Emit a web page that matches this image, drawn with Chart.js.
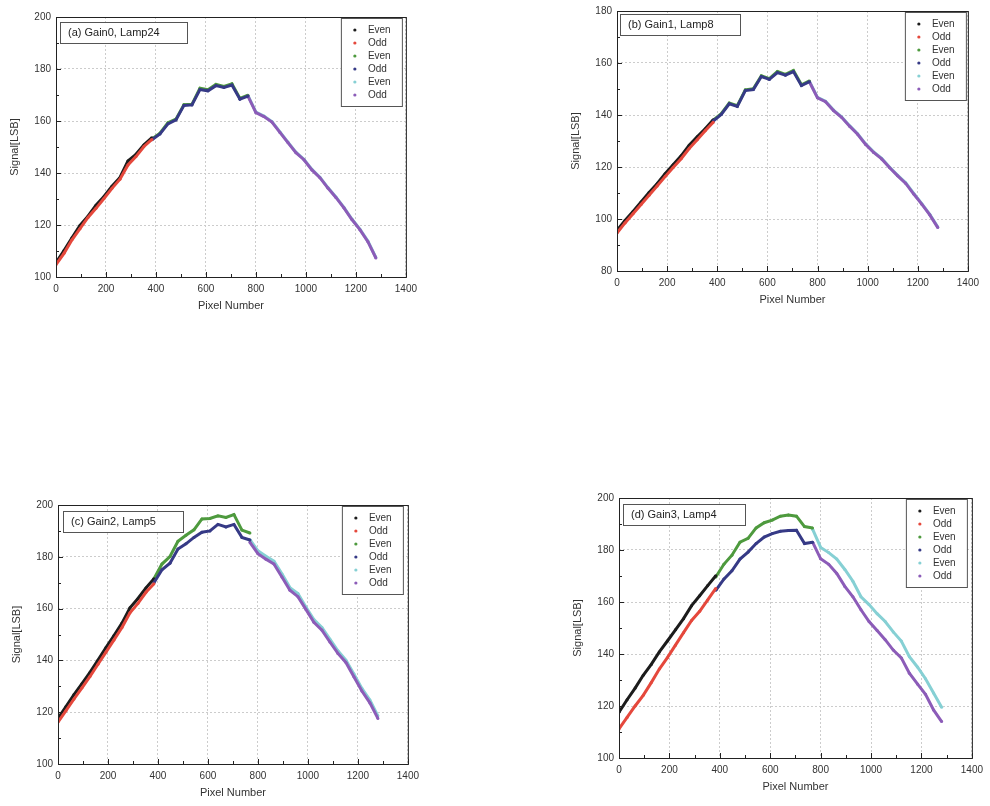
<!DOCTYPE html>
<html>
<head>
<meta charset="utf-8">
<script src="https://cdn.jsdelivr.net/npm/chart.js@4.4.1/dist/chart.umd.min.js"></script>
<style>
  body { margin: 0; background: #fff; width: 990px; height: 806px; position: relative; overflow: hidden; }
  .box { position: absolute; }
</style>
</head>
<body>
<div class="box" style="left:0px;top:6px;width:423px;height:315px"><canvas id="panelA"></canvas></div>
<div class="box" style="left:561px;top:0px;width:424px;height:315px"><canvas id="panelB"></canvas></div>
<div class="box" style="left:2px;top:494px;width:423px;height:314px"><canvas id="panelC"></canvas></div>
<div class="box" style="left:563px;top:487px;width:426px;height:315px"><canvas id="panelD"></canvas></div>
<script>
// pixel numbers (x) for the three readout segments
const pixSeg1 = [0, 32, 64, 96, 128, 160, 192, 224, 256, 288, 320, 352, 384];
const pixSeg2 = [384, 416, 448, 480, 512, 544, 576, 608, 640, 672, 704, 736, 768];
const pixSeg3 = [768, 800, 832, 864, 896, 928, 960, 992, 1024, 1056, 1088, 1120, 1152, 1184, 1216, 1248, 1280];

const legendLabels = ['Even', 'Odd', 'Even', 'Odd', 'Even', 'Odd'];
const seriesColors = ['#1c1c1c', '#e5483c', '#4e9a3e', '#363a86', '#86d0d4', '#8c5cb8'];

// (a) Gain0, Lamp24
const aEven1 = [105.5, 110.2, 115.1, 119.8, 123.4, 127.6, 131.0, 134.9, 138.3, 144.6, 147.2, 150.8, 153.6];
const aOdd1  = [104.8, 109.1, 114.3, 118.6, 122.9, 126.4, 130.2, 134.1, 137.6, 143.1, 146.3, 150.2, 152.9];
const aEven2 = [153.1, 155.3, 159.3, 160.7, 166.3, 166.4, 172.6, 172.0, 174.1, 173.3, 174.3, 168.7, 169.9];
const aOdd2  = [152.8, 155.0, 158.9, 160.4, 166.0, 166.2, 172.1, 171.6, 173.6, 172.9, 173.8, 168.4, 169.6];
const aEven3 = [169.8, 163.4, 161.9, 159.8, 155.8, 151.9, 148.0, 145.3, 141.4, 138.4, 134.4, 130.8, 126.8, 122.3, 118.4, 113.8, 107.5];
const aOdd3  = [169.6, 163.2, 161.7, 159.6, 155.6, 151.7, 147.8, 145.1, 141.2, 138.2, 134.2, 130.6, 126.6, 122.1, 118.2, 113.6, 107.3];

// (b) Gain1, Lamp8
const bEven1 = [95.6, 99.4, 102.9, 106.5, 110.2, 113.6, 117.4, 120.9, 124.3, 128.4, 131.6, 134.7, 138.2];
const bOdd1  = [94.6, 98.5, 102.0, 105.6, 109.1, 112.7, 116.3, 119.8, 123.2, 127.1, 130.5, 133.9, 137.2];
const bEven2 = [138.0, 140.5, 144.6, 143.6, 149.7, 150.1, 155.1, 154.0, 156.7, 155.6, 157.1, 151.6, 153.1];
const bOdd2  = [137.7, 140.2, 144.3, 143.3, 149.4, 149.8, 154.8, 153.7, 156.3, 155.3, 156.7, 151.3, 152.8];
const bEven3 = [152.9, 146.8, 145.3, 141.9, 139.3, 135.9, 132.8, 128.9, 125.8, 123.3, 119.9, 116.8, 113.9, 109.8, 105.9, 101.8, 96.9];
const bOdd3  = [152.7, 146.6, 145.1, 141.7, 139.1, 135.7, 132.6, 128.7, 125.6, 123.1, 119.7, 116.6, 113.7, 109.6, 105.7, 101.6, 96.7];

// (c) Gain2, Lamp5
const cEven1 = [117.6, 122.2, 126.8, 131.0, 135.4, 140.1, 145.0, 149.6, 154.4, 160.3, 163.9, 168.0, 171.5];
const cOdd1  = [116.2, 120.6, 125.1, 129.4, 133.8, 138.5, 143.2, 147.9, 152.7, 158.4, 162.0, 166.3, 169.6];
const cEven2 = [171.5, 177.2, 180.1, 186.0, 188.3, 190.4, 194.6, 194.8, 195.8, 195.2, 196.3, 190.3, 189.2];
const cOdd2  = [170.0, 175.0, 177.5, 183.0, 185.0, 187.5, 189.5, 190.0, 192.5, 191.5, 192.5, 187.5, 186.5];
const cEven3 = [186.6, 182.3, 180.2, 178.3, 173.4, 168.1, 165.8, 160.6, 155.8, 152.7, 148.2, 143.7, 140.1, 134.8, 129.2, 124.7, 118.6];
const cOdd3  = [185.6, 181.2, 179.1, 177.2, 172.2, 167.1, 164.6, 159.7, 154.7, 151.7, 147.1, 142.7, 139.2, 133.7, 128.2, 123.6, 117.6];

// (d) Gain3, Lamp4
const dEven1 = [117.6, 122.4, 126.9, 131.8, 136.0, 140.8, 145.0, 149.3, 153.6, 158.6, 162.4, 166.3, 170.1];
const dOdd1  = [111.2, 115.6, 120.0, 124.1, 129.0, 134.2, 138.6, 143.4, 148.2, 152.9, 156.4, 160.8, 165.2];
const dEven2 = [169.6, 174.5, 178.0, 183.0, 184.5, 188.5, 190.5, 191.5, 193.0, 193.5, 193.0, 189.0, 188.5];
const dOdd2  = [164.5, 168.8, 172.0, 176.5, 179.2, 182.5, 185.0, 186.3, 187.2, 187.5, 187.6, 182.5, 183.0];
const dEven3 = [188.0, 181.0, 179.0, 176.5, 172.5, 168.0, 162.0, 159.0, 155.5, 152.5, 148.5, 145.0, 139.0, 135.0, 130.5, 125.0, 119.5];
const dOdd3  = [183.0, 176.6, 174.5, 171.0, 166.0, 162.0, 157.0, 152.5, 149.0, 145.5, 141.5, 138.5, 132.6, 128.5, 124.5, 118.5, 114.0];

const FONT = "'Liberation Sans', Arial, sans-serif";

function pts(xs, ys) {
    return xs.map((x, i) => ({ x: x, y: ys[i] }));
}

// frame, inward ticks, label box and legend box
const decoPlugin = {
    id: 'deco',
    afterDraw(chart, args, opts) {
        const ctx = chart.ctx;
        const a = chart.chartArea;
        const xs = chart.scales.x, ys = chart.scales.y;
        ctx.save();
        ctx.strokeStyle = '#222';
        ctx.lineWidth = 1;
        ctx.strokeRect(a.left + 0.5, a.top + 0.5, a.right - a.left, a.bottom - a.top);
        // tick marks pointing inside
        ctx.beginPath();
        for (let v = 0; v <= 1400; v += 100) {
            const px = Math.round(xs.getPixelForValue(v)) + 0.5;
            const len = v % 200 === 0 ? 5 : 3;
            ctx.moveTo(px, a.bottom); ctx.lineTo(px, a.bottom - len);
        }
        for (let v = ys.min; v <= ys.max; v += 10) {
            const py = Math.round(ys.getPixelForValue(v)) + 0.5;
            const len = v % 20 === 0 ? 5 : 3;
            ctx.moveTo(a.left, py); ctx.lineTo(a.left + len, py);
        }
        ctx.stroke();

        // panel label
        ctx.font = '11px ' + FONT;
        ctx.fillStyle = '#fff';
        ctx.fillRect(a.left + opts.labelX, a.top + opts.labelY, opts.labelW, 21);
        ctx.strokeStyle = '#555';
        ctx.strokeRect(a.left + opts.labelX + 0.5, a.top + opts.labelY + 0.5, opts.labelW, 21);
        ctx.fillStyle = '#222';
        ctx.textBaseline = 'middle';
        ctx.fillText(opts.label, a.left + opts.labelX + 8, a.top + opts.labelY + 11);

        // legend
        const lw = 61, lh = 88;
        const lx = a.right - lw - opts.legendGap, ly = a.top + 1;
        ctx.fillStyle = '#fff';
        ctx.fillRect(lx, ly, lw, lh);
        ctx.strokeStyle = '#555';
        ctx.strokeRect(lx + 0.5, ly + 0.5, lw, lh);
        ctx.font = '10px ' + FONT;
        chart.data.datasets.forEach((ds, i) => {
            const ty = ly + 12 + i * 13;
            ctx.fillStyle = ds.borderColor;
            ctx.beginPath();
            ctx.arc(lx + 14, ty, 1.6, 0, Math.PI * 2);
            ctx.fill();
            ctx.fillStyle = '#333';
            ctx.fillText(ds.label, lx + 27, ty);
        });
        ctx.restore();
    }
};

function makePanel(id, label, yMin, yMax, series, deco) {
    const segX = [pixSeg1, pixSeg1, pixSeg2, pixSeg2, pixSeg3, pixSeg3];
    const datasets = series.map((ys, i) => ({
        label: legendLabels[i],
        data: pts(segX[i], ys),
        borderColor: seriesColors[i],
        backgroundColor: seriesColors[i],
        borderWidth: 3,
        pointRadius: 1.5,
        pointBorderWidth: 0,
        tension: 0,
        order: i % 2 === 1 ? 0 : 1   // odd series drawn on top
    }));
    return new Chart(document.getElementById(id), {
        type: 'line',
        data: { datasets: datasets },
        plugins: [decoPlugin],
        options: {
            responsive: true,
            maintainAspectRatio: false,
            animation: false,
            layout: { padding: { top: 10, right: 12, left: 4, bottom: 4 } },
            plugins: {
                legend: { display: false },
                tooltip: { enabled: false },
                deco: Object.assign({ label: label }, deco)
            },
            scales: {
                x: {
                    type: 'linear',
                    min: 0, max: 1400,
                    ticks: { stepSize: 200, color: '#333', font: { family: FONT, size: 10 }, padding: 6,
                             callback: v => String(v) },
                    grid: { color: '#cccccc', drawTicks: false },
                    border: { display: false, dash: [2, 2] },
                    title: { display: true, text: 'Pixel Number', color: '#333', font: { family: FONT, size: 11 } },
                    afterFit: function (s) { s.height = 40; }
                },
                y: {
                    min: yMin, max: yMax,
                    ticks: { stepSize: 20, color: '#333', font: { family: FONT, size: 10 }, padding: 5,
                             callback: v => String(v) },
                    grid: { color: '#cccccc', drawTicks: false },
                    border: { display: false, dash: [2, 2] },
                    title: { display: true, text: 'Signal[LSB]', color: '#333', font: { family: FONT, size: 11 } },
                    afterFit: function (s) { s.width = 52; }
                }
            }
        }
    });
}

makePanel('panelA', '(a) Gain0, Lamp24', 100, 200,
    [aEven1, aOdd1, aEven2, aOdd2, aEven3, aOdd3],
    { labelX: 4, labelY: 5, labelW: 127, legendGap: 4 });
makePanel('panelB', '(b) Gain1, Lamp8', 80, 180,
    [bEven1, bOdd1, bEven2, bOdd2, bEven3, bOdd3],
    { labelX: 3, labelY: 3, labelW: 120, legendGap: 2 });
makePanel('panelC', '(c) Gain2, Lamp5', 100, 200,
    [cEven1, cOdd1, cEven2, cOdd2, cEven3, cOdd3],
    { labelX: 5, labelY: 6, labelW: 120, legendGap: 5 });
makePanel('panelD', '(d) Gain3, Lamp4', 100, 200,
    [dEven1, dOdd1, dEven2, dOdd2, dEven3, dOdd3],
    { labelX: 4, labelY: 6, labelW: 122, legendGap: 5 });
</script>
</body>
</html>
